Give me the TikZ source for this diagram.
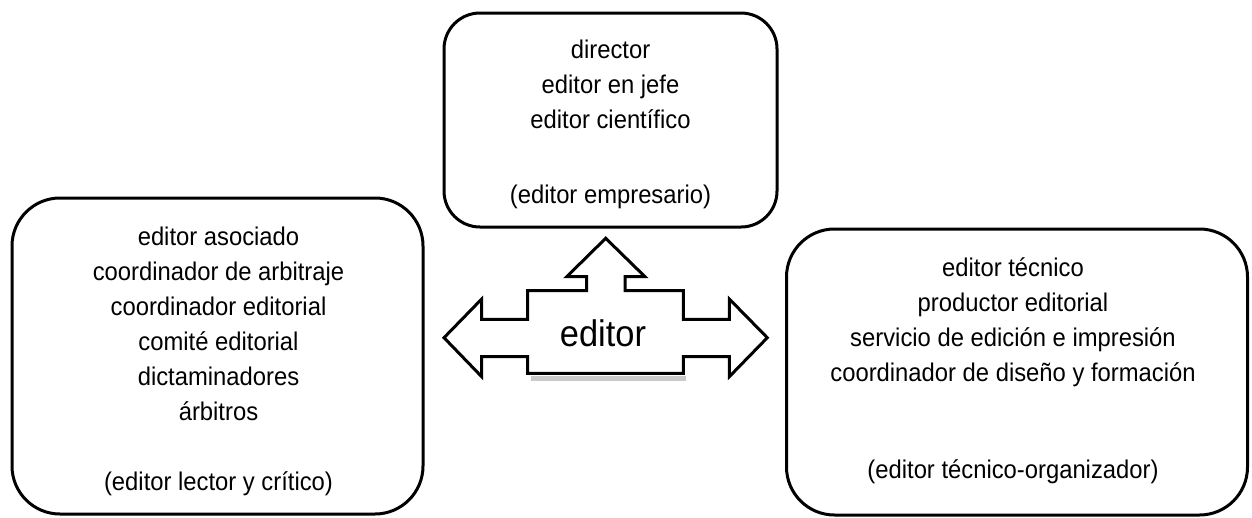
\documentclass[tikz,border=0pt]{standalone}
\usepackage{fontspec}
\setmainfont{Liberation Sans}[FakeStretch=0.93]
\begin{document}
\begin{tikzpicture}[x=1pt,y=-1pt,
  rbox/.style={draw=black, line width=3pt, rounded corners=#1, inner sep=0pt},
  lbl/.style={font=\fontsize{25.6}{35}\selectfont, align=center, anchor=base, inner sep=0pt},
  arrowshape/.style={draw=black, line width=3pt, fill=white, line join=miter}]
\useasboundingbox (0,0) rectangle (1252,517);
% boxes
\node[rbox=36pt, minimum width=333pt, minimum height=214pt] (top) at (610.5,120) {};
\node[rbox=48pt, minimum width=411pt, minimum height=316pt] (left) at (217.5,356) {};
\node[rbox=48pt, minimum width=461pt, minimum height=286pt] (right) at (1017,372) {};
% texts (base anchor = baseline of last line)
\node[lbl] (t1) at (610.5,128) {director\\editor en jefe\\editor científico};
\node[lbl] (t2) at (610.5,203) {(editor empresario)};
\node[lbl] (l1) at (218.5,420) {editor asociado\\coordinador de arbitraje\\coordinador editorial\\comité editorial\\dictaminadores\\árbitros};
\node[lbl] (l2) at (218.5,490) {(editor lector y crítico)};
\node[lbl] (r1) at (1013,381.5) {editor técnico\\productor editorial\\servicio de edición e impresión\\coordinador de diseño y formación};
\node[lbl] (r2) at (1013,478) {(editor técnico-organizador)};
% shadow
\draw[line width=5pt, black!35, opacity=0.6] (531,378.5) -- (686,378.5);
% arrow shape
\draw[arrowshape]
 (444,337.7) -- (481.7,299) -- (481.7,319.3) -- (527.7,319.3) -- (527.7,290.7)
 -- (586.7,290.7) -- (586.7,276.7) -- (566.7,276.7) -- (605.7,238.3) -- (645,276.7)
 -- (625,276.7) -- (625,290.7) -- (683.3,290.7) -- (683.3,319.3) -- (729.3,319.3)
 -- (729.3,299) -- (767.3,337.7) -- (729.3,376.7) -- (729.3,356.7) -- (683.3,356.7)
 -- (683.3,373.3) -- (527.7,373.3) -- (527.7,356.7) -- (481.7,356.7) -- (481.7,376.7) -- cycle;
\node[font=\fontsize{37}{40}\selectfont, inner sep=0pt] (ed) at (603,333) {editor};
\end{tikzpicture}
\end{document}
